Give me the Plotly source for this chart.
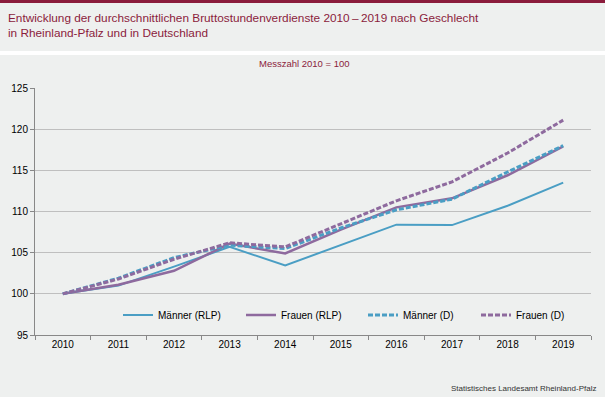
import plotly.graph_objects as go

years = ["2010", "2011", "2012", "2013", "2014", "2015", "2016", "2017", "2018", "2019"]
maenner_rlp = [100, 101.0, 103.3, 105.7, 103.45, 105.9, 108.4, 108.35, 110.7, 113.5]
frauen_rlp = [100, 101.1, 102.8, 106.1, 104.9, 107.8, 110.5, 111.6, 114.4, 117.9]
maenner_d = [100, 101.9, 104.4, 105.9, 105.5, 108.0, 110.2, 111.5, 114.8, 118.0]
frauen_d = [100, 101.8, 104.2, 106.2, 105.7, 108.5, 111.3, 113.6, 117.1, 121.1]
y_ticks = [95, 100, 105, 110, 115, 120, 125]

W, H = 605, 397
L, R, T, B = 35, 14, 88, 62
PW, PH = W - L - R, H - T - B

def px(x):
    return (x - L) / PW

def py(y):
    return (H - B - y) / PH

BLUE = "#4a9ec4"
PURPLE = "#8e6a9e"
MAROON = "#8b1c3c"
BG = "#eef0ef"
FONT = "Liberation Sans, Arial, sans-serif"

series = [
    ("Männer (RLP)", maenner_rlp, dict(color=BLUE, width=2), "legend"),
    ("Frauen (RLP)", frauen_rlp, dict(color=PURPLE, width=2.5), "legend2"),
    ("Männer (D)", maenner_d, dict(color=BLUE, width=3, dash="5px,2px"), "legend3"),
    ("Frauen (D)", frauen_d, dict(color=PURPLE, width=3, dash="5px,2px"), "legend4"),
]

fig = go.Figure()
for name, vals, line, leg in series:
    fig.add_trace(go.Scatter(x=years, y=vals, name=name, mode="lines", line=line, legend=leg))

shapes = [
    dict(type="rect", xref="paper", yref="paper", x0=px(-5), x1=px(W + 5), y0=py(3), y1=py(-5),
         fillcolor=MAROON, line_width=0, layer="below"),
    dict(type="rect", xref="paper", yref="paper", x0=px(-5), x1=px(W + 5), y0=py(55), y1=py(51),
         fillcolor="white", line_width=0, layer="below"),
]

annotations = [
    dict(text="Entwicklung der durchschnittlichen Bruttostundenverdienste 2010\u2009\u2013\u20092019 nach Geschlecht<br>in Rheinland-Pfalz und in Deutschland",
         xref="paper", yref="paper", x=px(6), y=py(9), xanchor="left", yanchor="top",
         align="left", showarrow=False, font=dict(family=FONT, size=11.8, color=MAROON)),
    dict(text="Messzahl 2010 = 100", xref="paper", yref="paper", x=px(304), y=py(63),
         xanchor="center", yanchor="middle", showarrow=False,
         font=dict(family=FONT, size=9.5, color=MAROON)),
    dict(text="Statistisches Landesamt Rheinland-Pfalz", xref="paper", yref="paper",
         x=px(598), y=py(388), xanchor="right", yanchor="middle", showarrow=False,
         font=dict(family=FONT, size=8, color="#333333")),
]

legend_starts = [118, 241, 363, 476]
legends = {}
for i, xs in enumerate(legend_starts):
    key = "legend" if i == 0 else "legend%d" % (i + 1)
    legends[key] = dict(orientation="h", x=px(xs), y=py(315), xanchor="left", yanchor="middle",
                        bgcolor="rgba(0,0,0,0)", borderwidth=0,
                        font=dict(family=FONT, size=10, color="black"))

fig.update_layout(
    width=W, height=H,
    margin=dict(l=L, r=R, t=T, b=B),
    paper_bgcolor=BG, plot_bgcolor=BG,
    font=dict(family=FONT, size=10, color="black"),
    shapes=shapes, annotations=annotations,
    showlegend=True,
    xaxis=dict(type="category", range=[-0.5, 9.5], tickson="boundaries", ticks="outside",
               ticklen=4, tickcolor="#888888", showline=True, linecolor="#888888",
               linewidth=1, showgrid=False, tickfont=dict(size=10), fixedrange=True),
    yaxis=dict(range=[95, 125], tickvals=y_ticks, ticks="outside", ticklen=4,
               tickcolor="#888888", showline=True, linecolor="#888888", linewidth=1,
               showgrid=True, gridcolor="#bfbfbf", gridwidth=1, zeroline=False,
               tickfont=dict(size=10), fixedrange=True),
    **legends,
)

fig.write_html("out.html", config={"displayModeBar": False},
               post_script="document.body.style.margin='0';document.body.style.overflow='hidden';")
